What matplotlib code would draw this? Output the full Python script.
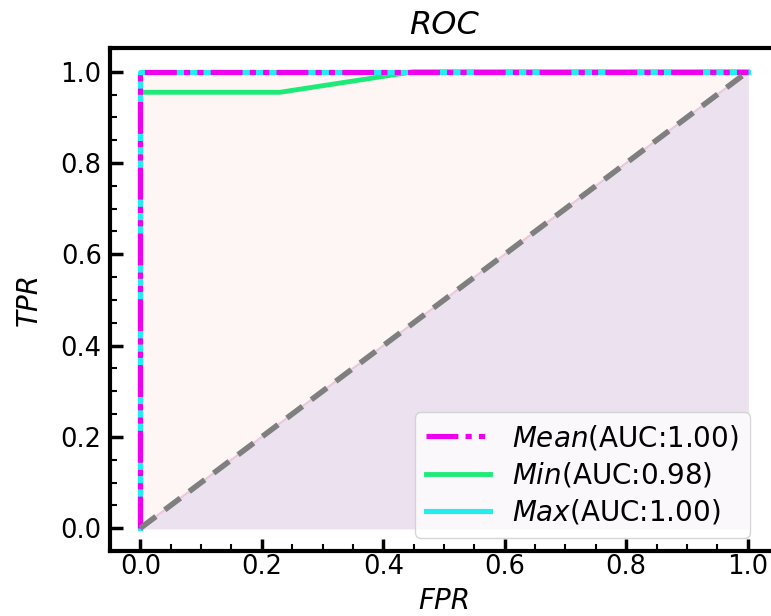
import matplotlib
matplotlib.use("Agg")
import matplotlib.pyplot as plt
import numpy as np
from matplotlib.ticker import MultipleLocator

mean_fpr = [0.0, 0.0, 1.0]
mean_tpr = [0.0, 1.0, 1.0]
min_fpr = [0.0, 0.0, 0.23, 0.45, 1.0]
min_tpr = [0.0, 0.955, 0.955, 1.0, 1.0]
max_fpr = [0.0, 0.0, 1.0]
max_tpr = [0.0, 1.0, 1.0]
labels = ["$Mean$(AUC:1.00)", "$Min$(AUC:0.98)", "$Max$(AUC:1.00)"]
diag = [0.0, 1.0]

fig = plt.figure(figsize=(7.71, 6.16), dpi=100)
ax = fig.add_axes([110/771, 1-551/616, 668/771, (551-48)/616])

ax.fill_between(mean_fpr, mean_tpr, color="#fdf6f5", zorder=1)
ax.fill_between(diag, diag, color="#ece1ee", zorder=1.5)
ax.plot(diag, diag, color="#eac9dc", lw=1.5, zorder=2)

l_min, = ax.plot(min_fpr, min_tpr, color="#1eea78", lw=3.5, zorder=3)
l_max, = ax.plot(max_fpr, max_tpr, color="#22eef0", lw=3.7, zorder=4)
l_mean, = ax.plot(mean_fpr, mean_tpr, color="#ee00ee", lw=3.7, zorder=5,
                  linestyle=(0, (6.2, 1.4, 1.2, 1.4, 1.2, 1.4)))
ax.plot(diag, diag, color="#7f7f7f", lw=4, linestyle=(0, (3.5, 2)), zorder=6)

ax.set_xlim(-0.05, 1.05)
ax.set_ylim(-0.05, 1.052)
ax.xaxis.set_major_locator(MultipleLocator(0.2))
ax.yaxis.set_major_locator(MultipleLocator(0.2))
ax.xaxis.set_minor_locator(MultipleLocator(0.05))
ax.yaxis.set_minor_locator(MultipleLocator(0.05))
ax.tick_params(which="both", direction="in", top=False, right=False, labelsize=18.5)
ax.tick_params(which="major", length=9, width=2.5)
ax.tick_params(axis="x", which="major", pad=2)
ax.tick_params(axis="y", which="major", pad=6)
ax.tick_params(which="minor", length=5, width=1.5)
for s in ax.spines.values():
    s.set_linewidth(3)

ax.set_title("ROC", fontsize=23, style="italic", pad=10)
ax.set_xlabel("FPR", fontsize=20, style="italic", labelpad=5)
ax.set_ylabel("TPR", fontsize=20, style="italic", labelpad=13)

leg = ax.legend([l_mean, l_min, l_max], labels, loc="lower right",
                fontsize=20, framealpha=0.8, handlelength=2.3,
                labelspacing=0.3, bbox_to_anchor=(0.958, 0.026), borderaxespad=0)

fig.savefig("out.png", dpi=100)
